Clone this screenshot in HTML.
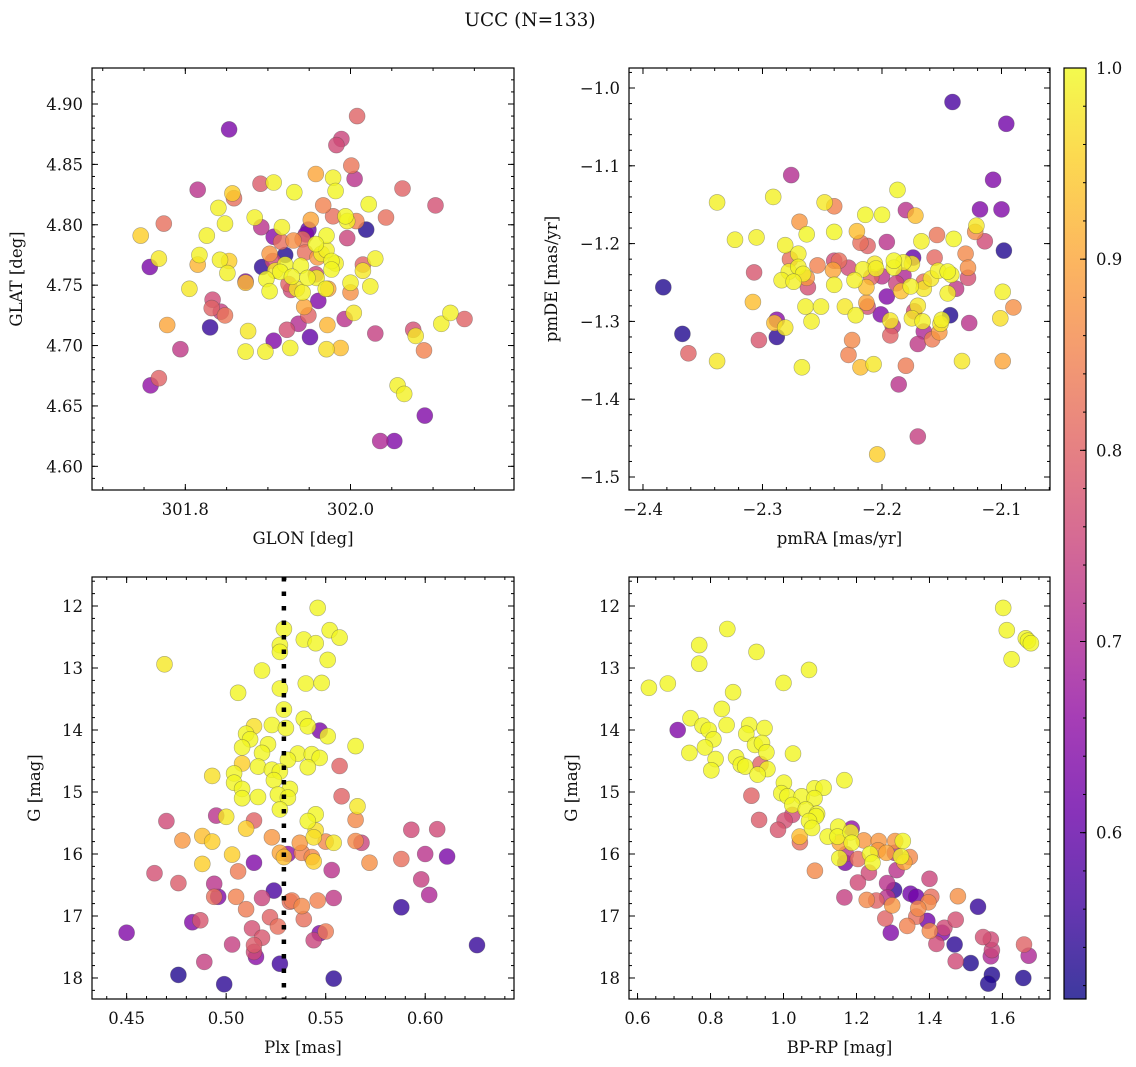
<!DOCTYPE html>
<html><head><meta charset="utf-8">
<style>
html,body{margin:0;padding:0;background:#fff;}
svg{display:block;font-family:"DejaVu Serif","Liberation Serif",serif;}
</style></head>
<body>
<svg id="fig" width="1136" height="1067" viewBox="0 0 1136 1067" xmlns="http://www.w3.org/2000/svg">
<defs>
<linearGradient id="plasmaGrad" x1="0" y1="1" x2="0" y2="0">
<stop offset="0" stop-color="#0d0887"/><stop offset="0.1" stop-color="#41049d"/><stop offset="0.2" stop-color="#6a00a8"/><stop offset="0.3" stop-color="#8f0da4"/><stop offset="0.4" stop-color="#b12a90"/><stop offset="0.5" stop-color="#cc4778"/><stop offset="0.6" stop-color="#e16462"/><stop offset="0.7" stop-color="#f2844b"/><stop offset="0.8" stop-color="#fca636"/><stop offset="0.9" stop-color="#fcce25"/><stop offset="1" stop-color="#f0f921"/>
</linearGradient>
</defs>
<text x="530" y="26" font-size="18.5" text-anchor="middle" fill="#111">UCC (N=133)</text>
</svg>
<script>
// ---------- Panel 1: GLON vs GLAT ----------
const glon = [302.008,301.853,301.989,301.983,302.001,301.958,301.979,302.005,301.815,301.891,301.907,301.932,301.982,302.063,301.857,301.859,302.103,301.840,301.967,302.022,301.884,301.979,301.994,302.007,302.043,301.774,301.848,301.952,301.996,301.746,301.826,301.892,301.917,301.949,302.019,301.907,301.946,301.971,301.996,301.916,301.931,301.942,301.958,301.921,301.902,301.945,301.965,301.971,301.960,301.817,301.768,301.757,301.815,301.842,301.853,301.893,301.906,301.921,301.940,301.977,301.982,302.015,302.030,301.909,301.915,301.977,302.015,301.851,301.873,301.873,301.898,301.929,301.958,301.948,301.959,302.000,302.024,301.805,301.902,301.925,301.928,301.935,301.942,301.970,301.973,302.000,301.961,301.833,301.832,301.843,301.848,301.944,301.949,302.004,301.993,301.778,301.830,301.876,301.923,301.937,301.972,301.951,301.907,302.030,302.076,302.079,302.110,302.121,302.138,301.794,301.873,301.897,301.927,301.971,301.988,302.089,301.768,301.758,302.057,302.065,302.090,302.036,302.053];
const glat = [4.890,4.879,4.871,4.866,4.849,4.842,4.839,4.838,4.829,4.834,4.835,4.827,4.828,4.830,4.826,4.822,4.816,4.814,4.816,4.817,4.806,4.807,4.807,4.803,4.806,4.801,4.801,4.804,4.803,4.791,4.791,4.798,4.798,4.796,4.796,4.790,4.792,4.791,4.789,4.786,4.787,4.788,4.784,4.775,4.776,4.777,4.776,4.779,4.773,4.775,4.772,4.765,4.767,4.771,4.770,4.765,4.770,4.767,4.766,4.770,4.768,4.767,4.772,4.762,4.761,4.763,4.762,4.760,4.753,4.752,4.755,4.757,4.759,4.756,4.756,4.752,4.749,4.747,4.745,4.751,4.746,4.747,4.744,4.747,4.747,4.744,4.737,4.738,4.731,4.728,4.725,4.732,4.725,4.727,4.722,4.717,4.715,4.712,4.713,4.718,4.717,4.707,4.704,4.710,4.713,4.708,4.718,4.727,4.722,4.697,4.695,4.695,4.698,4.697,4.698,4.696,4.673,4.667,4.667,4.660,4.642,4.621,4.621];
const prob1 = [0.8,0.63,0.75,0.76,0.83,0.9,0.99,0.72,0.72,0.79,0.99,0.995,0.995,0.8,0.95,0.82,0.77,0.99,0.85,0.995,0.99,0.82,0.995,0.85,0.82,0.82,0.99,0.9,0.99,0.95,0.99,0.72,0.99,0.6,0.53,0.65,0.63,0.995,0.75,0.82,0.87,0.82,0.995,0.53,0.88,0.82,0.99,0.99,0.88,0.99,0.98,0.63,0.92,0.99,0.95,0.54,0.76,0.995,0.995,0.995,0.99,0.8,0.99,0.98,0.995,0.995,0.98,0.99,0.65,0.93,0.995,0.995,0.75,0.995,0.99,0.99,0.99,0.98,0.995,0.8,0.76,0.98,0.99,0.99,0.9,0.87,0.64,0.76,0.8,0.74,0.83,0.9,0.8,0.98,0.72,0.9,0.55,0.98,0.77,0.71,0.92,0.6,0.64,0.74,0.77,0.98,0.99,0.99,0.8,0.73,0.99,0.99,0.99,0.97,0.93,0.85,0.8,0.66,0.99,0.99,0.64,0.7,0.64];
const p1xTicks = [301.8, 302.0];
const p1xLabels = ["301.8", "302.0"];
const p1yTicks = [4.60,4.65,4.70,4.75,4.80,4.85,4.90];
const p1yLabels = ["4.60","4.65","4.70","4.75","4.80","4.85","4.90"];

// ---------- Panel 2: pmRA vs pmDE ----------
const pmra = [-2.141,-2.096,-2.276,-2.107,-2.187,-2.338,-2.291,-2.248,-2.240,-2.180,-2.172,-2.214,-2.200,-2.118,-2.100,-2.269,-2.263,-2.240,-2.221,-2.121,-2.122,-2.323,-2.305,-2.281,-2.218,-2.212,-2.196,-2.167,-2.154,-2.140,-2.114,-2.098,-2.277,-2.270,-2.254,-2.240,-2.236,-2.190,-2.182,-2.174,-2.175,-2.156,-2.130,-2.128,-2.307,-2.278,-2.270,-2.266,-2.263,-2.241,-2.228,-2.216,-2.206,-2.205,-2.200,-2.209,-2.190,-2.182,-2.153,-2.145,-2.142,-2.128,-2.284,-2.274,-2.262,-2.240,-2.223,-2.213,-2.188,-2.184,-2.176,-2.165,-2.159,-2.165,-2.138,-2.145,-2.099,-2.308,-2.264,-2.251,-2.231,-2.213,-2.212,-2.196,-2.170,-2.173,-2.090,-2.288,-2.290,-2.281,-2.259,-2.222,-2.201,-2.193,-2.191,-2.175,-2.166,-2.165,-2.150,-2.151,-2.143,-2.127,-2.101,-2.383,-2.367,-2.362,-2.338,-2.303,-2.288,-2.267,-2.228,-2.225,-2.218,-2.207,-2.193,-2.180,-2.170,-2.158,-2.152,-2.133,-2.099,-2.186,-2.170,-2.204];
const pmde = [-1.018,-1.046,-1.112,-1.118,-1.131,-1.147,-1.140,-1.147,-1.152,-1.157,-1.164,-1.163,-1.163,-1.156,-1.156,-1.172,-1.188,-1.185,-1.184,-1.177,-1.185,-1.195,-1.192,-1.202,-1.199,-1.203,-1.198,-1.197,-1.189,-1.194,-1.197,-1.209,-1.220,-1.213,-1.228,-1.222,-1.222,-1.222,-1.224,-1.218,-1.226,-1.218,-1.213,-1.231,-1.237,-1.236,-1.230,-1.239,-1.244,-1.234,-1.231,-1.233,-1.226,-1.232,-1.242,-1.243,-1.231,-1.241,-1.235,-1.236,-1.240,-1.244,-1.247,-1.249,-1.256,-1.253,-1.247,-1.256,-1.251,-1.261,-1.255,-1.258,-1.245,-1.249,-1.258,-1.264,-1.262,-1.275,-1.281,-1.281,-1.281,-1.276,-1.281,-1.268,-1.280,-1.287,-1.282,-1.298,-1.302,-1.308,-1.300,-1.292,-1.291,-1.299,-1.306,-1.296,-1.300,-1.313,-1.298,-1.303,-1.292,-1.302,-1.296,-1.256,-1.316,-1.341,-1.351,-1.324,-1.320,-1.359,-1.343,-1.324,-1.359,-1.355,-1.318,-1.357,-1.329,-1.323,-1.314,-1.351,-1.351,-1.381,-1.448,-1.471];
const prob2 = [0.57,0.62,0.71,0.64,0.995,0.99,0.99,0.98,0.85,0.72,0.93,0.995,0.995,0.64,0.64,0.88,0.995,0.995,0.93,0.98,0.86,0.99,0.99,0.99,0.82,0.8,0.72,0.99,0.83,0.995,0.76,0.53,0.82,0.99,0.85,0.76,0.82,0.995,0.99,0.6,0.98,0.81,0.86,0.87,0.78,0.99,0.99,0.99,0.88,0.9,0.76,0.99,0.98,0.99,0.72,0.8,0.99,0.7,0.99,0.995,0.99,0.77,0.99,0.99,0.77,0.99,0.99,0.93,0.75,0.93,0.99,0.98,0.98,0.82,0.73,0.99,0.99,0.93,0.99,0.99,0.98,0.9,0.77,0.64,0.98,0.76,0.87,0.65,0.93,0.98,0.99,0.99,0.64,0.98,0.73,0.98,0.99,0.7,0.99,0.98,0.53,0.72,0.97,0.53,0.53,0.8,0.98,0.78,0.54,0.99,0.85,0.86,0.93,0.98,0.8,0.84,0.73,0.84,0.88,0.98,0.9,0.72,0.74,0.95];
const p2xTicks = [-2.4,-2.3,-2.2,-2.1];
const p2xLabels = ["\u22122.4","\u22122.3","\u22122.2","\u22122.1"];
const p2yTicks = [-1.5,-1.4,-1.3,-1.2,-1.1,-1.0];
const p2yLabels = ["\u22121.5","\u22121.4","\u22121.3","\u22121.2","\u22121.1","\u22121.0"];

// ---------- Panel 3: Plx vs G ----------
const plx = [0.546,0.529,0.552,0.557,0.539,0.545,0.527,0.527,0.551,0.469,0.518,0.540,0.548,0.506,0.527,0.529,0.539,0.541,0.547,0.551,0.514,0.523,0.530,0.510,0.512,0.521,0.508,0.518,0.536,0.543,0.547,0.565,0.531,0.508,0.516,0.523,0.527,0.541,0.557,0.493,0.504,0.524,0.504,0.532,0.508,0.508,0.516,0.526,0.531,0.527,0.558,0.566,0.500,0.495,0.470,0.514,0.545,0.541,0.565,0.510,0.545,0.488,0.493,0.478,0.523,0.544,0.550,0.554,0.537,0.565,0.568,0.503,0.527,0.531,0.529,0.538,0.543,0.544,0.488,0.514,0.572,0.588,0.600,0.611,0.593,0.606,0.464,0.506,0.553,0.476,0.494,0.598,0.524,0.494,0.496,0.505,0.518,0.532,0.533,0.546,0.554,0.602,0.588,0.538,0.510,0.483,0.487,0.522,0.539,0.526,0.450,0.513,0.518,0.547,0.550,0.544,0.503,0.514,0.514,0.515,0.489,0.527,0.626,0.476,0.499,0.554];
const gmag3 = [12.03,12.37,12.39,12.51,12.54,12.60,12.63,12.74,12.87,12.94,13.04,13.25,13.24,13.40,13.33,13.67,13.82,13.94,14.01,14.10,13.94,13.92,13.97,14.06,14.15,14.23,14.28,14.37,14.38,14.39,14.45,14.26,14.48,14.54,14.59,14.64,14.67,14.60,14.58,14.74,14.70,14.81,14.85,14.95,14.95,15.10,15.08,15.04,15.09,15.28,15.07,15.23,15.40,15.38,15.47,15.46,15.36,15.47,15.45,15.59,15.62,15.71,15.80,15.78,15.73,15.73,15.80,15.82,15.82,15.79,15.82,16.01,15.98,16.00,16.05,15.98,16.05,16.12,16.16,16.14,16.14,16.08,16.00,16.04,15.61,15.60,16.31,16.28,16.26,16.47,16.48,16.41,16.59,16.69,16.69,16.69,16.71,16.77,16.75,16.75,16.71,16.66,16.86,16.84,16.89,17.10,17.07,17.02,17.05,17.17,17.27,17.20,17.35,17.28,17.25,17.39,17.46,17.47,17.58,17.66,17.74,17.77,17.47,17.95,18.10,18.01];
const prob3 = [0.995,0.995,0.995,0.995,0.995,0.995,0.995,0.995,0.995,0.98,0.995,0.995,0.995,0.995,0.995,0.995,0.995,0.995,0.63,0.995,0.97,0.995,0.995,0.995,0.995,0.995,0.995,0.995,0.995,0.995,0.995,0.995,0.995,0.95,0.995,0.995,0.995,0.995,0.8,0.97,0.995,0.995,0.995,0.995,0.995,0.995,0.995,0.995,0.995,0.995,0.8,0.98,0.98,0.72,0.76,0.8,0.995,0.995,0.86,0.95,0.97,0.93,0.95,0.88,0.88,0.97,0.86,0.98,0.88,0.86,0.75,0.95,0.9,0.66,0.93,0.85,0.86,0.95,0.95,0.64,0.87,0.82,0.72,0.63,0.76,0.76,0.77,0.84,0.72,0.79,0.72,0.74,0.57,0.82,0.64,0.85,0.75,0.82,0.84,0.85,0.73,0.7,0.55,0.86,0.84,0.64,0.78,0.8,0.82,0.82,0.64,0.77,0.78,0.64,0.84,0.75,0.74,0.79,0.76,0.65,0.74,0.56,0.55,0.53,0.54,0.54];
const plxMedian = [0.529];
const p3xTicks = [0.45,0.50,0.55,0.60];
const p3xLabels = ["0.45","0.50","0.55","0.60"];
const p3yTicks = [12,13,14,15,16,17,18];
const p3yLabels = ["12","13","14","15","16","17","18"];

// ---------- Panel 4: BP-RP vs G ----------
const bprp = [1.602,1.612,1.664,1.670,1.678,1.625,0.846,0.769,0.769,0.926,1.070,0.631,0.683,1.000,0.862,0.831,0.745,0.844,0.710,0.778,0.795,0.906,0.948,0.898,0.808,0.785,0.742,0.922,0.941,0.953,0.814,0.870,1.026,0.883,0.895,0.937,0.956,0.802,0.929,1.167,1.001,0.912,0.994,1.011,1.050,1.085,1.110,1.085,1.024,1.061,1.092,1.089,1.070,1.078,1.024,1.003,0.933,0.985,1.044,1.045,1.121,1.150,1.148,1.154,1.187,1.184,1.187,1.220,1.261,1.306,1.327,1.171,1.169,1.153,1.204,1.237,1.244,1.259,1.282,1.305,1.322,1.331,1.346,1.086,1.310,1.234,1.400,1.204,1.284,1.303,1.348,1.364,1.167,1.228,1.254,1.284,1.298,1.405,1.397,1.478,1.369,1.533,1.279,1.364,1.394,1.472,1.294,1.339,1.401,1.441,1.435,1.419,1.469,1.547,1.568,1.571,1.568,1.472,1.513,1.571,1.561,1.657,1.659,1.672];
const gmag4 = [12.03,12.39,12.52,12.56,12.60,12.86,12.37,12.63,12.93,12.74,13.03,13.32,13.25,13.24,13.39,13.66,13.81,13.92,14.00,13.93,14.00,13.92,13.97,14.06,14.15,14.28,14.37,14.24,14.21,14.36,14.47,14.44,14.38,14.56,14.59,14.55,14.63,14.65,14.72,14.81,14.85,15.06,15.02,15.07,15.07,14.94,14.93,15.10,15.21,15.28,15.35,15.39,15.47,15.58,15.37,15.46,15.45,15.61,15.72,15.81,15.72,15.56,15.72,15.82,15.59,15.65,15.82,15.78,15.79,15.79,15.79,16.00,16.14,16.07,16.08,16.00,16.14,15.94,15.98,15.98,16.04,16.13,16.05,16.27,16.26,16.30,16.40,16.46,16.47,16.58,16.64,16.69,16.70,16.74,16.75,16.70,16.83,16.69,16.78,16.68,16.88,16.85,17.04,17.01,17.08,17.06,17.27,17.16,17.24,17.19,17.27,17.45,17.46,17.34,17.38,17.55,17.65,17.73,17.76,17.95,18.09,18.00,17.46,17.64];
const prob4 = [0.995,0.995,0.995,0.995,0.995,0.995,0.995,0.995,0.995,0.995,0.995,0.995,0.995,0.995,0.995,0.995,0.995,0.995,0.64,0.995,0.995,0.995,0.995,0.995,0.995,0.995,0.995,0.995,0.995,0.995,0.995,0.995,0.995,0.995,0.995,0.8,0.995,0.995,0.995,0.995,0.995,0.8,0.995,0.995,0.995,0.995,0.995,0.995,0.995,0.995,0.995,0.995,0.995,0.995,0.76,0.77,0.79,0.78,0.93,0.82,0.995,0.995,0.995,0.9,0.66,0.995,0.995,0.88,0.88,0.88,0.995,0.72,0.63,0.995,0.82,0.995,0.995,0.88,0.9,0.72,0.995,0.9,0.86,0.86,0.72,0.76,0.75,0.76,0.72,0.55,0.62,0.62,0.74,0.86,0.8,0.72,0.88,0.82,0.86,0.87,0.86,0.55,0.8,0.82,0.62,0.77,0.64,0.85,0.86,0.76,0.64,0.76,0.54,0.77,0.76,0.75,0.7,0.76,0.53,0.53,0.53,0.53,0.8,0.7];
const p4xTicks = [0.6,0.8,1.0,1.2,1.4,1.6];
const p4xLabels = ["0.6","0.8","1.0","1.2","1.4","1.6"];
const p4yTicks = [12,13,14,15,16,17,18];
const p4yLabels = ["12","13","14","15","16","17","18"];

// ---------- Colorbar ----------
const cbTicks = [0.6,0.7,0.8,0.9,1.0];
const cbLabels = ["0.6","0.7","0.8","0.9","1.0"];
const cbRange = [0.513, 1.0];

const NS = "http://www.w3.org/2000/svg";
const svg = document.getElementById('fig');
function mk(tag, attrs, parent){ const e=document.createElementNS(NS,tag); for(const k in attrs) e.setAttribute(k,attrs[k]); (parent||svg).appendChild(e); return e; }

const plasma = [[13,8,135],[65,4,157],[106,0,168],[143,13,164],[177,42,144],[204,71,120],[225,100,98],[242,132,75],[252,166,54],[252,206,37],[240,249,33]];
function cmap(p){
  let t=(p-cbRange[0])/(cbRange[1]-cbRange[0]); t=Math.max(0,Math.min(1,t));
  const f=t*10, i=Math.min(9,Math.floor(f)), r=f-i;
  const a=plasma[i], b=plasma[i+1];
  return 'rgb('+[0,1,2].map(k=>Math.round(a[k]+(b[k]-a[k])*r)).join(',')+')';
}

function panel(cfg){
  const g = mk('g',{});
  
  
  const {x0,y0,w,h,xd,yd,invertY} = cfg;
  const sx = v => x0 + (v-xd[0])/(xd[1]-xd[0])*w;
  const sy = v => invertY ? y0 + (v-yd[0])/(yd[1]-yd[0])*h : y0 + h - (v-yd[0])/(yd[1]-yd[0])*h;
  const idx = cfg.xs.map((_,i)=>i).sort((a,b)=>cfg.ps[a]-cfg.ps[b]);
  const pts = mk('g',{},g);
  
  
  for(const i of idx){
    const c = mk('circle',{cx:sx(cfg.xs[i]).toFixed(1), cy:sy(cfg.ys[i]).toFixed(1), r:8, fill:cmap(cfg.ps[i]), 'fill-opacity':0.8, stroke:'rgba(70,70,70,0.45)', 'stroke-width':0.6}, pts);
    
    
  }
  if(cfg.vline){
    const l = mk('line',{x1:sx(cfg.vline[0]),x2:sx(cfg.vline[0]),y1:y0,y2:y0+h,stroke:'#000','stroke-width':4.5,'stroke-dasharray':'4.5,10'},g);
    
    
  }
  const tk = mk('g',{stroke:'#000','stroke-width':1},g);
  
  
  function xt(v,len){ const X=sx(v); if(X<x0-0.5||X>x0+w+0.5) return; mk('line',{x1:X,x2:X,y1:y0+h,y2:y0+h-len},tk); mk('line',{x1:X,x2:X,y1:y0,y2:y0+len},tk); }
  function yt(v,len){ const Y=sy(v); if(Y<y0-0.5||Y>y0+h+0.5) return; mk('line',{x1:x0,x2:x0+len,y1:Y,y2:Y},tk); mk('line',{x1:x0+w,x2:x0+w-len,y1:Y,y2:Y},tk); }
  const lo=Math.min(xd[0],xd[1]), hi=Math.max(xd[0],xd[1]);
  for(let k=Math.ceil(lo/cfg.xminor-1e-6); k*cfg.xminor<=hi+1e-9; k++) xt(k*cfg.xminor,3);
  const ylo=Math.min(yd[0],yd[1]), yhi=Math.max(yd[0],yd[1]);
  for(let k=Math.ceil(ylo/cfg.yminor-1e-6); k*cfg.yminor<=yhi+1e-9; k++) yt(k*cfg.yminor,3);
  cfg.xt.forEach(v=>xt(v,6)); cfg.yt.forEach(v=>yt(v,6));
  const fr = mk('rect',{x:x0,y:y0,width:w,height:h,fill:'none',stroke:'#000','stroke-width':1.2},g);
  
  
  cfg.xt.forEach((v,i)=>{ const t=mk('text',{x:sx(v),y:y0+h+25,'font-size':16.5,'text-anchor':'middle',fill:'#111'},g); t.textContent=cfg.xl[i];
    
     });
  cfg.yt.forEach((v,i)=>{ const t=mk('text',{x:x0-9,y:sy(v)+6,'font-size':16.5,'text-anchor':'end',fill:'#111'},g); t.textContent=cfg.yl[i];
    
     });
  const xa=mk('text',{x:x0+w/2,y:y0+h+54,'font-size':16.5,'text-anchor':'middle',fill:'#111'},g); xa.textContent=cfg.xlabel;
  
  
  const ya=mk('text',{x:cfg.ylx,y:y0+h/2,'font-size':16.5,'text-anchor':'middle',fill:'#111',transform:'rotate(-90 '+cfg.ylx+' '+(y0+h/2)+')'},g); ya.textContent=cfg.ylabel;
  
  
}

panel({name:'glon-glat-panel',x0:92,y0:68,w:422,h:422,xd:[301.687,302.198],yd:[4.5804,4.9298],xs:glon,ys:glat,ps:prob1,xt:p1xTicks,xl:p1xLabels,yt:p1yTicks,yl:p1yLabels,xminor:0.05,yminor:0.01,xlabel:'GLON [deg]',ylabel:'GLAT [deg]',ylx:22});
panel({name:'proper-motion-panel',x0:629,y0:68,w:421,h:422,xd:[-2.4117,-2.0594],yd:[-1.5167,-0.9743],xs:pmra,ys:pmde,ps:prob2,xt:p2xTicks,xl:p2xLabels,yt:p2yTicks,yl:p2yLabels,xminor:0.02,yminor:0.02,xlabel:'pmRA [mas/yr]',ylabel:'pmDE [mas/yr]',ylx:557});
panel({name:'plx-g-panel',x0:92,y0:577,w:422,h:422,xd:[0.4326,0.6446],yd:[11.532,18.339],invertY:true,xs:plx,ys:gmag3,ps:prob3,vline:plxMedian,xt:p3xTicks,xl:p3xLabels,yt:p3yTicks,yl:p3yLabels,xminor:0.01,yminor:0.2,xlabel:'Plx [mas]',ylabel:'G [mag]',ylx:40});
panel({name:'cmd-panel',x0:629,y0:577,w:421,h:422,xd:[0.5766,1.7303],yd:[11.532,18.339],invertY:true,xs:bprp,ys:gmag4,ps:prob4,xt:p4xTicks,xl:p4xLabels,yt:p4yTicks,yl:p4yLabels,xminor:0.05,yminor:0.2,xlabel:'BP-RP [mag]',ylabel:'G [mag]',ylx:577});

(function(){
  const x0=1064,y0=68,w=22,h=931;
  const g=mk('g',{});
  
  
  mk('rect',{x:x0,y:y0,width:w,height:h,fill:'url(#plasmaGrad)','fill-opacity':0.8},g);
  const sy=v=>y0+h-(v-cbRange[0])/(cbRange[1]-cbRange[0])*h;
  for(let k=Math.ceil(cbRange[0]/0.02); k*0.02<=cbRange[1]+1e-9; k++){ const Y=sy(k*0.02); mk('line',{x1:x0+w,x2:x0+w-3,y1:Y,y2:Y,stroke:'#000','stroke-width':1},g); }
  cbTicks.forEach((v,i)=>{ const Y=sy(v); mk('line',{x1:x0+w,x2:x0+w-6,y1:Y,y2:Y,stroke:'#000','stroke-width':1},g);
    const t=mk('text',{x:x0+w+10,y:Y+6,'font-size':16.5,fill:'#111'},g); t.textContent=cbLabels[i];
    
     });
  mk('rect',{x:x0,y:y0,width:w,height:h,fill:'none',stroke:'#000','stroke-width':1.2},g);
})();
</script>
</body></html>
